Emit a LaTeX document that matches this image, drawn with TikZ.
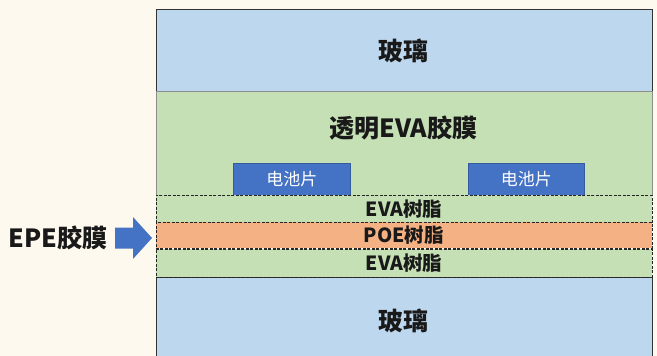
\documentclass[tikz,border=0pt]{standalone}
\usepackage{fontspec}
\newfontfamily\cjk{Noto Sans CJK SC}
\definecolor{bg}{HTML}{FEF9EE}
\definecolor{glass}{HTML}{BDD7EE}
\definecolor{eva}{HTML}{C5E0B4}
\definecolor{poe}{HTML}{F4B183}
\definecolor{cell}{HTML}{4472C4}
\begin{document}
\begin{tikzpicture}[x=1pt,y=-1pt,
  layer/.style={draw=black!80,line width=0.8pt,fill=glass},
  resin/.style={draw=black!85,dashed,dash pattern=on 3pt off 1.5pt,line width=0.8pt},
  cellbox/.style={draw=cell!80!black,line width=0.5pt,fill=cell,text=white,font=\cjk\fontsize{17}{17}\selectfont},
  big/.style={font=\cjk\bfseries\fontsize{25}{25}\selectfont,text=black!90},
  small/.style={font=\cjk\bfseries\fontsize{19.5}{19.5}\selectfont,text=black!90}]
\useasboundingbox (0,0) rectangle (657,356);
\fill[bg] (0,0) rectangle (657,356);
\begin{scope}
\clip (0,0) rectangle (657,356);
\node[layer,minimum width=496pt,minimum height=82pt,anchor=north west,inner sep=0] (glass1) at (155.5,9) {};
\node[big] (t1) at (glass1.center) {玻璃};
\node[draw=black!45,line width=0.8pt,fill=eva,minimum width=496pt,minimum height=104pt,anchor=north west,inner sep=0] (evaf) at (155.5,91) {};
\node[big] (t2) at (403.5,128) {透明EVA胶膜};
\node[cellbox,minimum width=117pt,minimum height=32pt,anchor=north west,inner sep=0] (c1) at (233,163) {电池片};
\node[cellbox,minimum width=116pt,minimum height=32pt,anchor=north west,inner sep=0] (c2) at (468,163) {电池片};
\node[layer,minimum width=496pt,minimum height=84pt,anchor=north west,inner sep=0] (glass2) at (155.5,277) {};
\node[big] (t3) at (403.5,321) {玻璃};
\node[resin,fill=eva,minimum width=496pt,minimum height=27pt,anchor=north west,inner sep=0] (r1) at (155.5,195) {};
\node[resin,fill=poe,minimum width=496pt,minimum height=26pt,anchor=north west,inner sep=0] (r2) at (155.5,222) {};
\node[resin,fill=eva,minimum width=496pt,minimum height=28pt,anchor=north west,inner sep=0] (r3) at (155.5,248.5) {};
\node[small] at (r1.center) {EVA树脂};
\node[small] at (r2.center) {POE树脂};
\node[small] at (r3.center) {EVA树脂};
\end{scope}
\node[big,anchor=east] (epe) at (111,238) {EPE胶膜};
\fill[cell] (115,227.5) -- (133,227.5) -- (133,217) -- (152,238) -- (133,259) -- (133,248.5) -- (115,248.5) -- cycle;
\end{tikzpicture}
\end{document}
